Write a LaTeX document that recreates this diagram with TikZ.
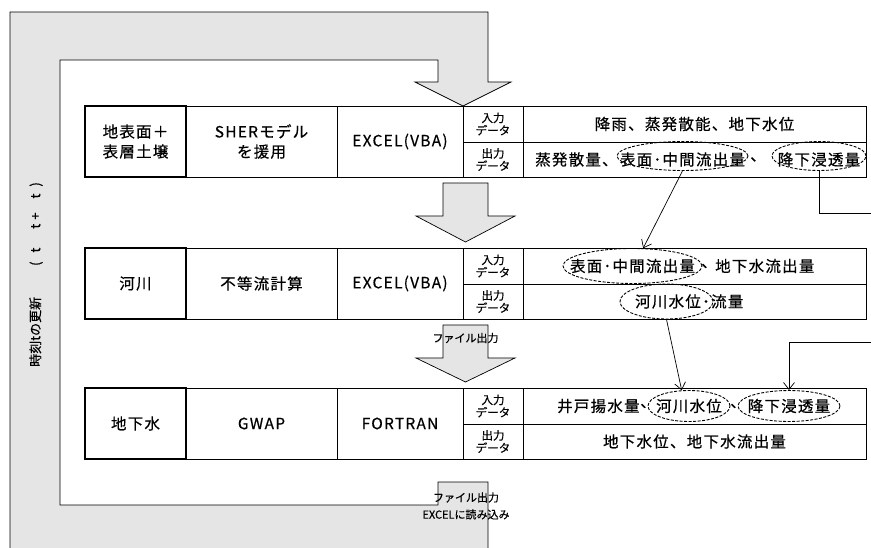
\documentclass[tikz,border=0pt]{standalone}
\usepackage{fontspec}
\setmainfont{Noto Sans CJK JP}[FakeBold=0.5]
\newfontfamily\jpw[LetterSpace=8,FakeBold=0.5]{Noto Sans CJK JP}
\usetikzlibrary{shapes.geometric,arrows.meta}
\begin{document}
\begin{tikzpicture}[x=1pt,y=-1pt,
 tab/.style={draw, line width=0.7pt, inner sep=0pt, align=center, font=\jpw\fontsize{15.5}{20}\selectfont},
 headbox/.style={tab, line width=2pt},
 lab/.style={draw, line width=0.7pt, inner sep=0pt, align=center, font=\fontsize{11.5}{12.5}\selectfont},
 txt/.style={inner sep=0pt, font=\jpw\fontsize{15.5}{20}\selectfont},
 small/.style={inner sep=0pt, align=center, font=\fontsize{11}{17}\selectfont},
 oval/.style={ellipse, draw, line width=0.9pt, dash pattern=on 3pt off 1.5pt, inner sep=0pt},
 grayshape/.style={fill=black!10, draw=black, line width=0.7pt, line join=miter},
 conn/.style={line width=0.7pt, -{Straight Barb[length=7pt,width=11pt]}},
 wire/.style={line width=0.7pt}
]
\useasboundingbox (0,0) rectangle (871,548);
\clip (0,0) rectangle (871,548);
% loop band
\draw[grayshape] (438,482) -- (488,482) -- (488,560) -- (10,560) -- (10,12) -- (488,12) -- (488,82) -- (511,82) -- (463,106) -- (415,82) -- (438,82) -- (438,60) -- (60,60) -- (60,505) -- (438,505) -- cycle;
% block arrows
\draw[grayshape] (443,183) -- (488,183) -- (488,216) -- (515,216) -- (465.5,242) -- (416,216) -- (443,216) -- cycle;
\draw[grayshape] (443,325) -- (488,325) -- (488,358) -- (515,358) -- (465.5,382) -- (416,358) -- (443,358) -- cycle;

% ---- row 1
\node[tab, minimum width=151pt, minimum height=71pt] (r1b) at (261.5,141.5) {SHERモデル\\を援用};
\node[tab, minimum width=126pt, minimum height=71pt] (r1c) at (400,141.5) {EXCEL(VBA)};
\node[lab, minimum width=60pt, minimum height=36pt] (r1d) at (493,124) {入力\\データ};
\node[lab, minimum width=60pt, minimum height=35pt] (r1e) at (493,159.5) {出力\\データ};
\node[tab, minimum width=343pt, minimum height=36pt] (r1f) at (694.5,124) {降雨、蒸発散能、地下水位};
\node[tab, minimum width=343pt, minimum height=35pt] (r1g) at (694.5,159.5) {};
\node[headbox, minimum width=101pt, minimum height=71pt] (r1a) at (135.5,141.5) {地表面＋\\表層土壌};
\node[txt, anchor=west] (r1t1) at (535,159.5) {蒸発散量、};
\node[oval, minimum width=131pt, minimum height=29pt] (r1e1) at (682.5,156) {};
\node[txt] (r1t2) at (682.5,159.5) {表面･中間流出量};
\node[txt] (r1t3) at (758,159.5) {、};
\node[oval, minimum width=94pt, minimum height=29pt] (r1e2) at (819,156) {};
\node[txt] (r1t4) at (819,159.5) {降下浸透量};

% ---- row 2
\node[tab, minimum width=151pt, minimum height=71pt] (r2b) at (261.5,283.5) {不等流計算};
\node[tab, minimum width=126pt, minimum height=71pt] (r2c) at (400,283.5) {EXCEL(VBA)};
\node[lab, minimum width=60pt, minimum height=36pt] (r2d) at (493,266) {入力\\データ};
\node[lab, minimum width=60pt, minimum height=35pt] (r2e) at (493,301.5) {出力\\データ};
\node[tab, minimum width=343pt, minimum height=36pt] (r2f) at (694.5,266) {};
\node[tab, minimum width=343pt, minimum height=35pt] (r2g) at (694.5,301.5) {};
\node[headbox, minimum width=101pt, minimum height=71pt] (r2a) at (135.5,283.5) {河川};
\node[oval, minimum width=139pt, minimum height=35pt] (r2e1) at (632.5,266) {};
\node[txt] (r2t1) at (632.5,266) {表面･中間流出量};
\node[txt] (r2t2) at (709,266) {、};
\node[txt, anchor=west] (r2t3) at (715,266) {地下水流出量};
\node[oval, minimum width=93pt, minimum height=35pt] (r2e2) at (666.5,301.5) {};
\node[txt, anchor=west] (r2t4) at (635,301.5) {河川水位･流量};

% ---- row 3
\node[tab, minimum width=151pt, minimum height=71pt] (r3b) at (261.5,423.5) {GWAP};
\node[tab, minimum width=126pt, minimum height=71pt] (r3c) at (400,423.5) {FORTRAN};
\node[lab, minimum width=60pt, minimum height=36pt] (r3d) at (493,406) {入力\\データ};
\node[lab, minimum width=60pt, minimum height=35pt] (r3e) at (493,441.5) {出力\\データ};
\node[tab, minimum width=343pt, minimum height=36pt] (r3f) at (694.5,406) {};
\node[tab, minimum width=343pt, minimum height=35pt] (r3g) at (694.5,441.5) {地下水位、地下水流出量};
\node[headbox, minimum width=101pt, minimum height=71pt] (r3a) at (135.5,423.5) {地下水};
\node[txt, anchor=west] (r3t1) at (557,406) {井戸揚水量};
\node[txt] (r3t2) at (648,406) {、};
\node[oval, minimum width=82pt, minimum height=31pt] (r3e1) at (689,406) {};
\node[txt] (r3t3) at (689,406) {河川水位};
\node[txt] (r3t4) at (738,406) {、};
\node[oval, minimum width=102pt, minimum height=31pt] (r3e2) at (789,406) {};
\node[txt] (r3t5) at (789,406) {降下浸透量};

% ---- connectors
\coordinate (o1) at (875,213);
\coordinate (o2) at (875,342);
\draw[conn] (r1e1.south) -- (r2e1.59);
\draw[conn] (r2e2.south) -- (r3e1.115);
\draw[wire] (r1e2.south) |- (o1);
\draw[conn] (o2) -| (r3e2.north);

% ---- labels
\node[small] (fo1) at (465.5,338) {ファイル出力};
\node[small] (fo2) at (466,506) {ファイル出力\\EXCELに読み込み};
\node[rotate=90, anchor=west, inner sep=0pt, font=\fontsize{13}{13}\selectfont] (tl) at (36,367) {時刻tの更新\hspace{31pt}(\hspace{9pt}t\hspace{19pt}t\hspace{4pt}+\hspace{14pt}t\hspace{7pt})};
\end{tikzpicture}
\end{document}
